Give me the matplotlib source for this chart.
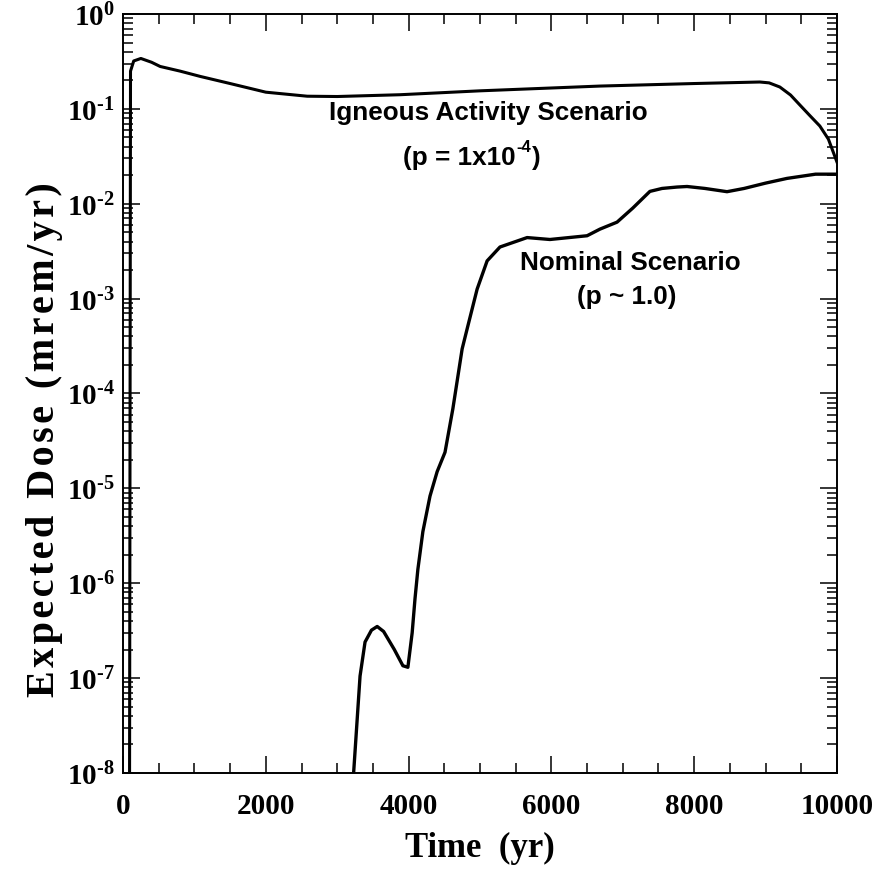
import math
import matplotlib.pyplot as plt
from matplotlib.ticker import LogLocator, MultipleLocator, FuncFormatter, NullFormatter

# igneous activity scenario (p = 1e-4)
ign_t = [90, 105, 150, 250, 400, 520, 800, 1080, 1500, 2000, 2580, 3000, 3880,
         5000, 6680, 8000, 8920, 9050, 9200, 9350, 9480, 9620, 9760, 9880, 10000]
ign_dose = [1e-9, 0.25, 0.32, 0.34, 0.31, 0.28, 0.25, 0.22, 0.185, 0.15, 0.136,
            0.135, 0.141, 0.155, 0.174, 0.185, 0.192, 0.188, 0.17, 0.14, 0.11,
            0.085, 0.066, 0.048, 0.0275]

# nominal scenario (p ~ 1.0)
nom_t = [3200, 3230, 3320, 3390, 3480, 3560, 3650, 3800, 3920, 3990, 4050, 4090,
         4130, 4200, 4300, 4400, 4510, 4620, 4750, 4820, 4960, 5100, 5280, 5660,
         5980, 6500, 6680, 6920, 7140, 7380, 7550, 7760, 7900, 8150, 8460, 8700,
         9000, 9300, 9700, 10000]
nom_dose = [1e-9, 1e-8, 1.05e-7, 2.4e-7, 3.2e-7, 3.5e-7, 3.1e-7, 2e-7, 1.35e-7,
            1.3e-7, 3e-7, 6.9e-7, 1.4e-6, 3.5e-6, 8.3e-6, 1.5e-5, 2.4e-5, 6.9e-5,
            2.95e-4, 4.8e-4, 1.26e-3, 2.5e-3, 3.5e-3, 4.4e-3, 4.2e-3, 4.6e-3,
            5.4e-3, 6.4e-3, 9e-3, 1.35e-2, 1.45e-2, 1.5e-2, 1.52e-2, 1.45e-2,
            1.34e-2, 1.45e-2, 1.65e-2, 1.85e-2, 2.05e-2, 2.05e-2]

plt.rcParams['mathtext.fontset'] = 'custom'
plt.rcParams['mathtext.rm'] = 'Liberation Serif:bold'
plt.rcParams['mathtext.bf'] = 'Liberation Serif:bold'
plt.rcParams['mathtext.it'] = 'Liberation Serif:bold:italic'
plt.rcParams['mathtext.sf'] = 'Liberation Sans:bold'

fig = plt.figure(figsize=(8.94, 8.78), dpi=100)
ax = fig.add_axes([0.1376, 0.1185, 0.7986, 0.8644])

ax.plot(ign_t, ign_dose, color='black', lw=2.2)
ax.plot(nom_t, nom_dose, color='black', lw=2.4)

ax.set_yscale('log')
ax.set_xlim(0, 10000)
ax.set_ylim(1e-8, 1)

ax.xaxis.set_major_locator(MultipleLocator(2000))
ax.xaxis.set_minor_locator(MultipleLocator(500))
ax.yaxis.set_major_locator(LogLocator(base=10, numticks=20))
ax.yaxis.set_minor_locator(LogLocator(base=10, subs=range(2, 10), numticks=100))
ax.yaxis.set_minor_formatter(NullFormatter())
ax.yaxis.set_major_formatter(FuncFormatter(
    lambda v, p: r'$\mathrm{10}^{\text{%d}}$' % round(math.log10(v))))

ax.tick_params(which='both', direction='in', top=True, right=True, width=1.1)
ax.tick_params(which='major', length=12)
ax.tick_params(which='minor', length=7)
ax.tick_params(axis='y', labelsize=21, pad=6)
ax.tick_params(axis='x', labelsize=21, pad=14)
for lab in ax.get_xticklabels():
    lab.set_fontfamily('Liberation Serif')
    lab.set_fontweight('bold')
for s in ax.spines.values():
    s.set_linewidth(1.4)

ax.set_xlabel('Time  (yr)', fontsize=25, fontfamily='Liberation Serif',
              fontweight='bold', labelpad=8)
ylab = '\u200a'.join('Expected Dose (mrem/yr)')
ax.set_ylabel(ylab, fontsize=29, fontfamily=['Liberation Serif', 'DejaVu Serif'],
              fontweight='bold')
ax.yaxis.set_label_coords(-0.084, 0.44)

sans = dict(fontfamily='Liberation Sans', fontweight='bold', fontsize=18.8,
            ha='center', va='center')
ax.text(0.512, 0.871, 'Igneous Activity Scenario', transform=ax.transAxes, **sans)
base = ax.text(0.55, 0.812, '(p = 1x10', transform=ax.transAxes,
               **dict(sans, ha='right'))
sup = ax.annotate('-4', xy=(1, 1), xycoords=base, xytext=(0.5, -1),
                  textcoords='offset points', ha='left', va='center',
                  fontfamily='Liberation Sans', fontweight='bold', fontsize=12)
ax.annotate(')', xy=(1, 0.5), xycoords=(sup, base), xytext=(0.5, 0),
            textcoords='offset points', ha='left', va='center',
            fontfamily='Liberation Sans', fontweight='bold', fontsize=18.8)
ax.text(0.71, 0.673, 'Nominal Scenario', transform=ax.transAxes, **sans)
ax.text(0.706, 0.6285, '(p ~ 1.0)', transform=ax.transAxes, **sans)

fig.savefig('out.png', dpi=100)
